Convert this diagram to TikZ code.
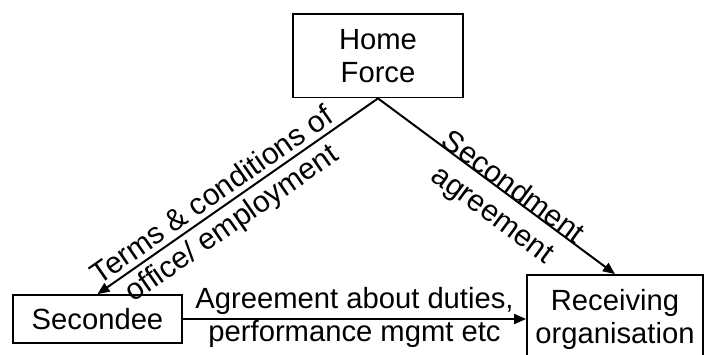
\documentclass[tikz,border=0pt]{standalone}
\usepackage{fontspec}
\setmainfont{Liberation Sans}
\usepackage{tikz}
\usetikzlibrary{arrows.meta, positioning}

\tikzset{
  orgbox/.style={draw=black, fill=white, line width=0.9pt, align=center, inner sep=0pt,
    minimum width=85pt, minimum height=41.75pt, font=\fontsize{14.6}{16.5}\selectfont},
  linkarrow/.style={line width=1pt, -{Triangle[length=6pt, width=5pt]}},
  linklabel/.style={align=center, inner sep=0pt, font=\fontsize{14.6}{16.5}\selectfont},
  slopelabel/.style={sloped, anchor=base, inner sep=0pt, font=\fontsize{15}{17}\selectfont}
}
\newcommand{\twolines}[2]{\begin{tabular}[t]{@{}c@{}}#1\\#2\end{tabular}}

\begin{document}
\begin{tikzpicture}[x=0.5pt, y=-0.5pt]
  \useasboundingbox (0,0) rectangle (721,354);

  \node[orgbox] (home) at (378,55.75) {Home\\Force};
  \node[orgbox, minimum width=84.5pt, minimum height=24pt] (secondee) at (97.5,319) {Secondee};
  \node[orgbox, minimum width=88pt, minimum height=44pt] (receiving) at (615,319) {Receiving\\organisation};

  % home force to secondee and receiving organisation
  \draw[linkarrow] (home.south) -- (secondee.north)
    node[slopelabel, pos=0.56, yshift=3pt] (termslbl) {\twolines{Terms \& conditions of}{office/ employment}};
  \draw[linkarrow] (home.south) -- (receiving.north)
    node[slopelabel, pos=0.547] (agreelbl) {\twolines{Secondment}{agreement}};

  % secondee to receiving organisation
  \draw[linkarrow] (secondee.east) -- (receiving.west)
    node[linklabel, midway, yshift=0.8pt] (dutieslbl) {Agreement about duties,\\performance mgmt etc};
\end{tikzpicture}
\end{document}
